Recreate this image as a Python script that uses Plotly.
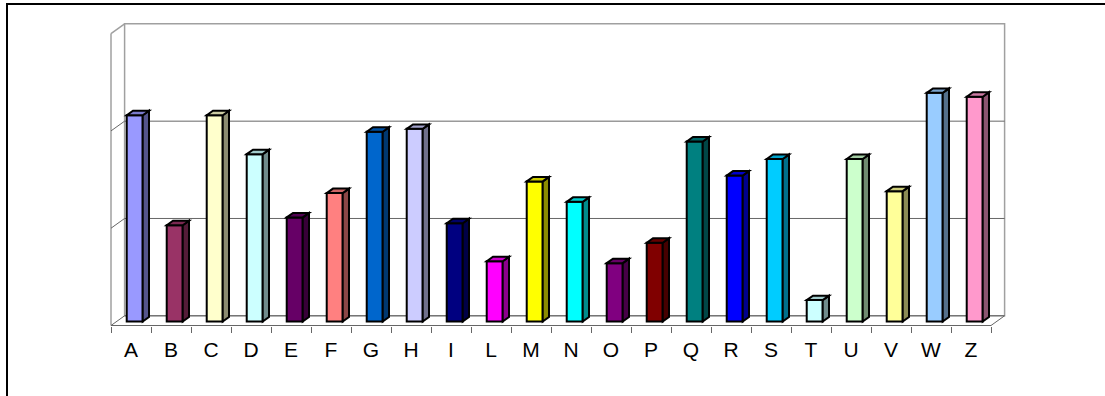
import plotly.graph_objects as go

# Categories and values
categories = ["A", "B", "C", "D", "E", "F", "G", "H", "I", "L", "M",
              "N", "O", "P", "Q", "R", "S", "T", "U", "V", "W", "Z"]
values = [21.2, 9.9, 21.2, 17.2, 10.7, 13.2, 19.5, 19.8, 10.1, 6.2, 14.4,
          12.3, 6.0, 8.1, 18.5, 15.0, 16.7, 2.2, 16.7, 13.4, 23.5, 23.1]
colors = ["#9999FF", "#993366", "#FFFFCC", "#CCFFFF", "#660066", "#FF8080",
          "#0066CC", "#CCCCFF", "#000080", "#FF00FF", "#FFFF00", "#00FFFF",
          "#800080", "#800000", "#008080", "#0000FF", "#00CCFF", "#CCFFFF",
          "#CCFFCC", "#FFFF99", "#99CCFF", "#FF99CC"]
grid_values = [10, 20, 30]

# Oblique 3D geometry (in axis units)
WALL_DX, WALL_DY = 0.34, 1.0      # depth of floor / walls
BAR_FX, BAR_FY = 0.093, 0.41      # front face of bars behind the floor edge
BAR_DX, BAR_DY = 0.157, 0.46      # depth of each bar
BAR_W = 0.4

W, H = 1105, 396
ML, MR, MT, MB = 109, 98, 19, 70
PW, PH = W - ML - MR, H - MT - MB


def shade(hex_color, f):
    r, g, b = (int(hex_color[i:i + 2], 16) for i in (1, 3, 5))
    return "#%02x%02x%02x" % (int(r * f), int(g * f), int(b * f))


def path(points):
    return "M " + " L ".join(f"{x},{y}" for x, y in points) + " Z"


fig = go.Figure()

# front faces of the bars
fig.add_trace(go.Bar(
    x=categories, y=values, base=BAR_FY, width=BAR_W,
    offset=-BAR_W / 2 + BAR_FX,
    marker=dict(color=colors, line=dict(color="black", width=2)),
    hoverinfo="x+y",
))

shapes = []
wall = dict(color="#a0a0a0", width=1.5)
grid = dict(color="#666666", width=1)
n = len(categories)
x0, x1 = -0.5, n - 0.5

# back wall, left wall and floor edges
shapes.append(dict(type="path", xref="x", yref="y", layer="below", line=wall,
                   path=path([(x0 + WALL_DX, WALL_DY), (x0 + WALL_DX, 30 + WALL_DY),
                              (x1 + WALL_DX, 30 + WALL_DY), (x1 + WALL_DX, WALL_DY)])))
shapes.append(dict(type="line", xref="x", yref="y", layer="below", line=wall,
                   x0=x0, y0=0, x1=x0, y1=30))
shapes.append(dict(type="line", xref="x", yref="y", layer="below", line=wall,
                   x0=x0, y0=30, x1=x0 + WALL_DX, y1=30 + WALL_DY))
for g in grid_values[:-1]:
    shapes.append(dict(type="line", xref="x", yref="y", layer="below", line=grid,
                       x0=x0 + WALL_DX, y0=g + WALL_DY, x1=x1 + WALL_DX, y1=g + WALL_DY))
    shapes.append(dict(type="line", xref="x", yref="y", layer="below", line=grid,
                       x0=x0, y0=g, x1=x0 + WALL_DX, y1=g + WALL_DY))
# floor
shapes.append(dict(type="line", xref="x", yref="y", layer="below", line=grid,
                   x0=x0 + WALL_DX, y0=WALL_DY, x1=x1 + WALL_DX, y1=WALL_DY))
shapes.append(dict(type="line", xref="x", yref="y", layer="below", line=grid,
                   x0=x0, y0=0, x1=x1, y1=0))
shapes.append(dict(type="line", xref="x", yref="y", layer="below", line=grid,
                   x0=x0, y0=0, x1=x0 + WALL_DX, y1=WALL_DY))
shapes.append(dict(type="line", xref="x", yref="y", layer="below", line=grid,
                   x0=x1, y0=0, x1=x1 + WALL_DX, y1=WALL_DY))

# side and top faces of each bar
for i, (v, c) in enumerate(zip(values, colors)):
    left = i + BAR_FX - BAR_W / 2
    right = i + BAR_FX + BAR_W / 2
    bottom, top = BAR_FY, BAR_FY + v
    shapes.append(dict(type="path", xref="x", yref="y", layer="above",
                       fillcolor=shade(c, 0.55), line=dict(color="black", width=2),
                       path=path([(right, bottom), (right + BAR_DX, bottom + BAR_DY),
                                  (right + BAR_DX, top + BAR_DY), (right, top)])))
    shapes.append(dict(type="path", xref="x", yref="y", layer="above",
                       fillcolor=shade(c, 0.8), line=dict(color="black", width=2),
                       path=path([(left, top), (left + BAR_DX, top + BAR_DY),
                                  (right + BAR_DX, top + BAR_DY), (right, top)])))


# chart area border (top and left edges)
def px_x(p):
    return (p - ML) / PW


def px_y(p):
    return (H - MB - p) / PH


shapes.append(dict(type="path", xref="paper", yref="paper", layer="above",
                   line=dict(color="black", width=2),
                   path=f"M {px_x(7)},{px_y(H + 5)} L {px_x(7)},{px_y(4)} L {px_x(W + 5)},{px_y(4)}"))

fig.update_layout(
    width=W, height=H,
    margin=dict(l=ML, r=MR, t=MT, b=MB),
    paper_bgcolor="white", plot_bgcolor="rgba(0,0,0,0)",
    showlegend=False,
    shapes=shapes,
    font=dict(family="Liberation Sans, Arial, sans-serif", color="black"),
    xaxis=dict(
        type="category", range=[-0.55, n - 0.5 + WALL_DX + 0.06],
        tickson="boundaries", ticks="outside", ticklen=6, tickwidth=1,
        tickcolor="#666666", showgrid=False, showline=False, zeroline=False,
        tickfont=dict(size=21), ticklabelstandoff=9,
    ),
    yaxis=dict(range=[-0.05, 31.5], visible=False, showgrid=False, zeroline=False),
)

fig.write_html("out.html")
